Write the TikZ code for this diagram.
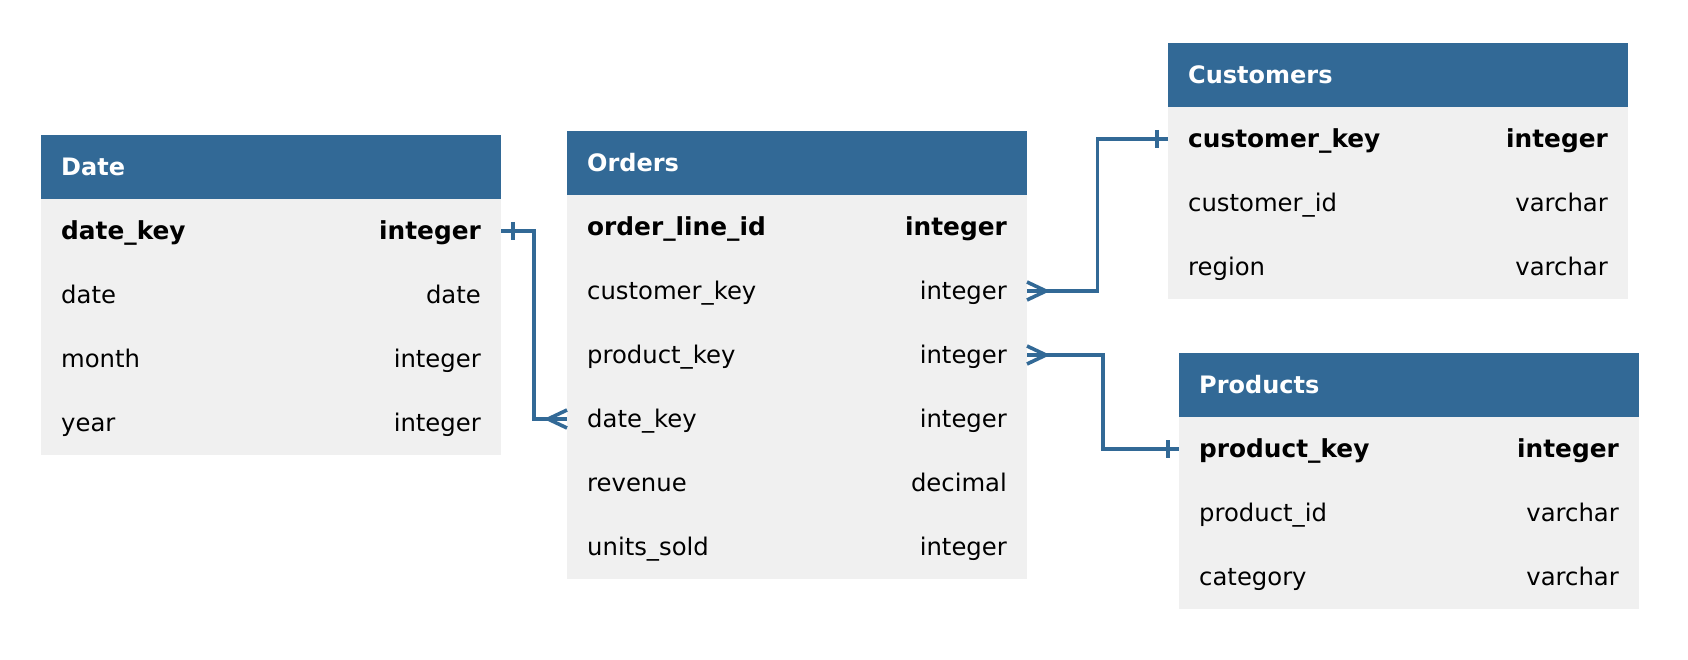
\documentclass[tikz,border=0pt]{standalone}
\usepackage{fontspec}
\setmainfont{DejaVu Sans}
\usetikzlibrary{calc}
\definecolor{hdr}{RGB}{50,105,150}
\definecolor{bodyc}{RGB}{240,240,240}
\newcommand\etable[5]{% name, x, y(top), rows, title
  \node[hdrbox] (#1H) at (#2,#3) {};
  \node[bodybox, minimum height=#4*64] (#1B) at (#2,#3+64) {};
  \node[ttl] (#1T) at (#2+20,#3+32+8.5) {#5};
}
\newcommand\erow[6]{% left x, y center, field, type, style, name
  \node[#5, anchor=base west] (#6f) at (#1+20,#2+8.5) {#3};
  \node[#5, anchor=base east] (#6t) at (#1+440,#2+8.5) {#4};
  \coordinate (#6L) at (#1,#2);
  \coordinate (#6R) at (#1+460,#2);
}
\begin{document}
\begin{tikzpicture}[x=1pt,y=-1pt,
  hdrbox/.style={fill=hdr, draw=none, inner sep=0, anchor=north west, minimum width=460pt, minimum height=64pt},
  bodybox/.style={fill=bodyc, draw=none, inner sep=0, anchor=north west, minimum width=460pt},
  ttl/.style={font=\fontsize{24}{28}\selectfont\bfseries, text=white, inner sep=0, anchor=base west},
  fld/.style={font=\fontsize{24.3}{28}\selectfont, inner sep=0},
  fldk/.style={font=\fontsize{24.8}{28}\selectfont\bfseries, inner sep=0},
  rel/.style={draw=hdr, line width=3.6pt},
]
\useasboundingbox (0,0) rectangle (1688,660);
% Date
\etable{date}{41}{135}{4}{Date}
\erow{41}{231}{date\_key}{integer}{fldk}{d1}
\erow{41}{295}{date}{date}{fld}{d2}
\erow{41}{359}{month}{integer}{fld}{d3}
\erow{41}{423}{year}{integer}{fld}{d4}
% Orders
\etable{ord}{567}{131}{6}{Orders}
\erow{567}{227}{order\_line\_id}{integer}{fldk}{o1}
\erow{567}{291}{customer\_key}{integer}{fld}{o2}
\erow{567}{355}{product\_key}{integer}{fld}{o3}
\erow{567}{419}{date\_key}{integer}{fld}{o4}
\erow{567}{483}{revenue}{decimal}{fld}{o5}
\erow{567}{547}{units\_sold}{integer}{fld}{o6}
% Customers
\etable{cus}{1168}{43}{3}{Customers}
\erow{1168}{139}{customer\_key}{integer}{fldk}{c1}
\erow{1168}{203}{customer\_id}{varchar}{fld}{c2}
\erow{1168}{267}{region}{varchar}{fld}{c3}
% Products
\etable{prd}{1179}{353}{3}{Products}
\erow{1179}{449}{product\_key}{integer}{fldk}{p1}
\erow{1179}{513}{product\_id}{varchar}{fld}{p2}
\erow{1179}{577}{category}{varchar}{fld}{p3}
% Date.date_key -> Orders.date_key
\draw[rel] (d1R) -| ($(d1R)!.5!(o4L)$) |- (o4L);
\draw[rel] ([xshift=12pt,yshift=9pt]d1R) -- ([xshift=12pt,yshift=-9pt]d1R);
\draw[rel] ([yshift=9pt]o4L) -- ([xshift=-19pt]o4L) -- ([yshift=-9pt]o4L);
% Orders.customer_key -> Customers.customer_key
\draw[rel] (o2R) -| ($(o2R)!.5!(c1L)$) |- (c1L);
\draw[rel] ([yshift=9pt]o2R) -- ([xshift=19pt]o2R) -- ([yshift=-9pt]o2R);
\draw[rel] ([xshift=-11pt,yshift=9pt]c1L) -- ([xshift=-11pt,yshift=-9pt]c1L);
% Orders.product_key -> Products.product_key
\draw[rel] (o3R) -| ($(o3R)!.5!(p1L)$) |- (p1L);
\draw[rel] ([yshift=9pt]o3R) -- ([xshift=19pt]o3R) -- ([yshift=-9pt]o3R);
\draw[rel] ([xshift=-11pt,yshift=9pt]p1L) -- ([xshift=-11pt,yshift=-9pt]p1L);
\end{tikzpicture}
\end{document}
